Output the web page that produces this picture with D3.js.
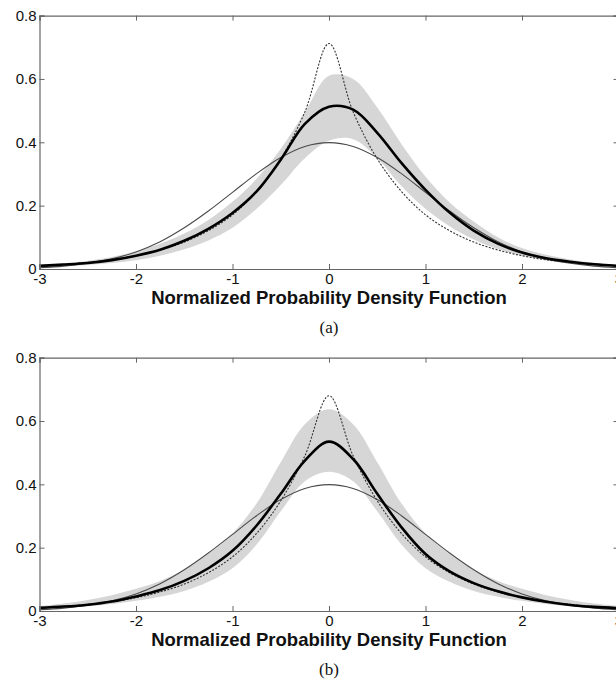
<!DOCTYPE html>
<html><head><meta charset="utf-8">
<script src="https://cdn.jsdelivr.net/npm/d3@7"></script>
<style>
html,body{margin:0;padding:0;background:#fff;}
svg{display:block;}
</style></head>
<body>
<script>
// ---- data ----
const xs = [-3,-2.75,-2.5,-2.25,-2,-1.75,-1.5,-1.25,-1,-0.75,-0.5,-0.25,0,0.25,0.5,0.75,1,1.25,1.5,1.75,2,2.25,2.5,2.75,3];
const xTicks = [-3,-2,-1,0,1,2,3];
const yTicks = [0,0.2,0.4,0.6,0.8];
const xTickLabels = ["-3","-2","-1","0","1","2","3"];
const yTickLabels = ["0","0.2","0.4","0.6","0.8"];
const xLabel = "Normalized Probability Density Function";
const captions = ["(a)","(b)"];

const gaussA = [.004,.009,.018,.032,.054,.086,.130,.183,.242,.301,.352,.387,.399,.387,.352,.301,.242,.183,.130,.086,.054,.032,.018,.009,.004];
const laplaceA = [.010,.014,.021,.029,.042,.060,.085,.121,.171,.245,.348,.496,.712,.496,.348,.245,.171,.121,.085,.060,.042,.029,.021,.014,.010];
const meanA = [.010,.014,.019,.028,.042,.061,.089,.127,.177,.245,.345,.458,.512,.503,.430,.335,.250,.178,.121,.080,.052,.034,.023,.015,.010];
const upperA = [.013,.018,.026,.038,.056,.080,.112,.155,.212,.285,.380,.495,.610,.600,.510,.395,.292,.210,.150,.100,.066,.045,.030,.020,.014];
const lowerA = [.006,.009,.013,.019,.028,.042,.062,.090,.130,.190,.265,.350,.405,.410,.350,.262,.190,.135,.093,.063,.042,.028,.018,.011,.007];

const gaussB = [.004,.009,.018,.032,.054,.086,.130,.183,.242,.301,.352,.387,.399,.387,.352,.301,.242,.183,.130,.086,.054,.032,.018,.009,.004];
const laplaceB = [.010,.014,.021,.029,.042,.060,.085,.121,.171,.245,.348,.490,.680,.490,.348,.245,.171,.121,.085,.060,.042,.029,.021,.014,.010];
const meanB = [.010,.014,.020,.030,.046,.066,.095,.135,.190,.270,.370,.475,.535,.480,.370,.265,.180,.125,.088,.062,.043,.029,.019,.013,.009];
const upperB = [.016,.024,.035,.050,.070,.095,.130,.180,.245,.340,.470,.590,.637,.590,.470,.340,.245,.180,.130,.095,.070,.050,.035,.024,.016];
const lowerB = [.006,.009,.015,.022,.032,.045,.063,.092,.135,.210,.315,.410,.440,.410,.315,.210,.135,.092,.063,.045,.032,.022,.015,.009,.006];

const panels = [
  {top:15.6, bottom:269, gauss:gaussA, lap:laplaceA, mean:meanA, up:upperA, lo:lowerA, cap:captions[0]},
  {top:357.7, bottom:611, gauss:gaussB, lap:laplaceB, mean:meanB, up:upperB, lo:lowerB, cap:captions[1]}
];

const W = 616, H = 684;
const left = 39.5, right = 618.5;
const svg = d3.select("body").append("svg").attr("width",W).attr("height",H);

const x = d3.scaleLinear().domain([-3,3]).range([left,right]);
const SANS = "'Liberation Sans', Arial, Helvetica, sans-serif";
const SERIF = "'Liberation Serif', 'Times New Roman', Times, serif";

panels.forEach(p => {
  const y = d3.scaleLinear().domain([0,0.8]).range([p.bottom,p.top]);
  const g = svg.append("g");
  const pts = (arr) => xs.map((v,i)=>[v,arr[i]]);
  const curve = d3.curveCatmullRom.alpha(0.5);

  // band
  g.append("path")
    .datum(xs.map((v,i)=>({x:v,u:p.up[i],l:p.lo[i]})))
    .attr("d", d3.area().x(d=>x(d.x)).y0(d=>y(d.l)).y1(d=>y(d.u)).curve(curve))
    .attr("fill","#d6d6d6");

  const line = d3.line().x(d=>x(d[0])).y(d=>y(d[1])).curve(curve);
  g.append("path").datum(pts(p.gauss)).attr("d",line)
    .attr("fill","none").attr("stroke","#4a4a4a").attr("stroke-width",1.1);
  g.append("path").datum(pts(p.lap)).attr("d",line)
    .attr("fill","none").attr("stroke","#333").attr("stroke-width",1.1).attr("stroke-dasharray","2,1.5");
  g.append("path").datum(pts(p.mean)).attr("d",line)
    .attr("fill","none").attr("stroke","#000").attr("stroke-width",2.6);

  // axes box
  const axisColor = "#666";
  const xb = g.append("g").attr("transform",`translate(0,${p.bottom})`)
    .call(d3.axisBottom(x).tickValues(xTicks).tickSize(-5).tickPadding(4).tickFormat((d,i)=>xTickLabels[i]));
  const xt = g.append("g").attr("transform",`translate(0,${p.top})`)
    .call(d3.axisTop(x).tickValues(xTicks).tickSize(-5).tickFormat(""));
  const yl = g.append("g").attr("transform",`translate(${left},0)`)
    .call(d3.axisLeft(y).tickValues(yTicks).tickSize(-5).tickPadding(3).tickFormat((d,i)=>yTickLabels[i]));
  const yr = g.append("g").attr("transform",`translate(${right},0)`)
    .call(d3.axisRight(y).tickValues(yTicks).tickSize(-5).tickFormat(""));
  [xb,xt,yl,yr].forEach(a=>{
    a.attr("font-family",null).attr("font-size",null);
    a.selectAll("path.domain").attr("stroke",axisColor).attr("stroke-width",1.2);
    a.selectAll(".tick line").attr("stroke",axisColor).attr("stroke-width",1);
    a.selectAll("text").attr("font-family",SANS).attr("font-size",15).attr("fill","#111");
  });

  g.append("text").attr("x",329).attr("y",p.bottom+35)
    .attr("text-anchor","middle")
    .attr("font-family",SANS).attr("font-weight","bold").attr("font-size",18.5)
    .attr("fill","#111").text(xLabel);
  g.append("text").attr("x",329).attr("y",p.bottom+64)
    .attr("text-anchor","middle")
    .attr("font-family",SERIF).attr("font-size",17)
    .attr("fill","#111").text(p.cap);
});
</script>
</body></html>
